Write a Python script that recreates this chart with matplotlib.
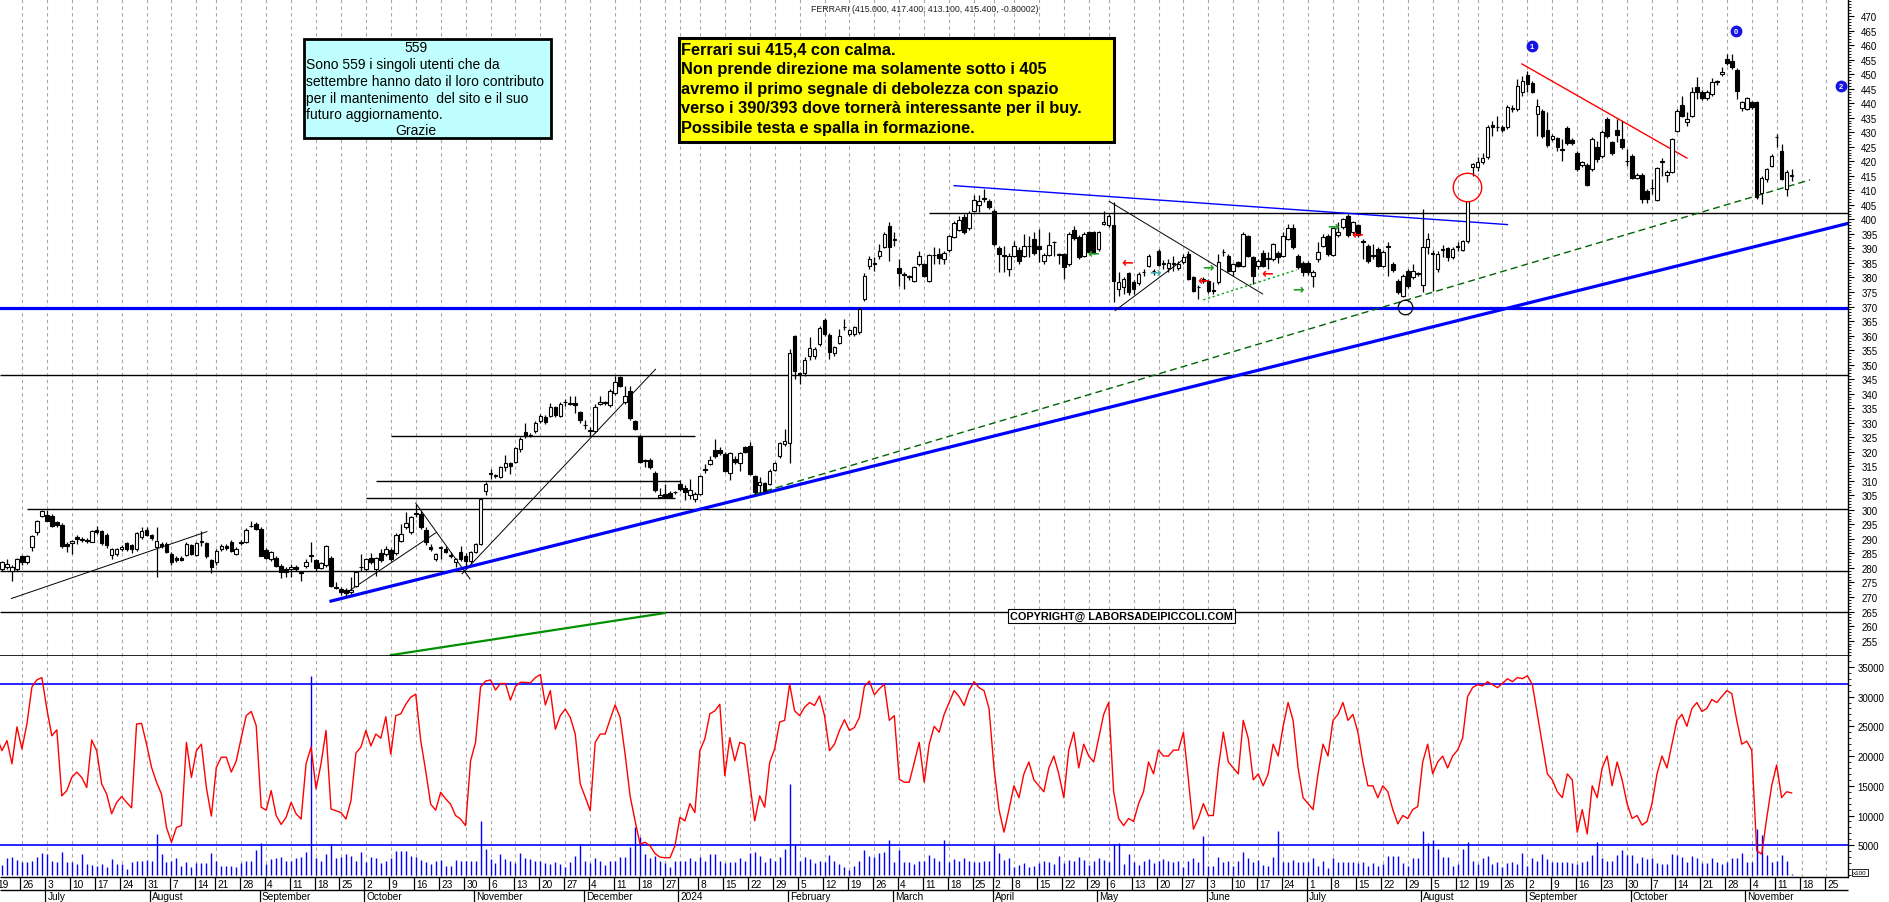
import numpy as np
import pandas as pd
import matplotlib
matplotlib.use('Agg')
import matplotlib.pyplot as plt
from matplotlib.patches import Rectangle
from matplotlib.ticker import MultipleLocator

plt.rcParams['font.family'] = ['Liberation Sans', 'DejaVu Sans']

W, H = 1890, 903

# ---------------- data ----------------
start_date = '2023-06-19'
axis_end_date = '2024-11-29'
holidays = ['2023-08-15', '2023-12-25', '2023-12-26', '2024-01-01',
            '2024-03-29', '2024-04-01', '2024-05-01', '2024-08-15']

opens = [281, 279.6, 280.2, 279, 279.8, 284, 282, 287.1, 292.3, 298,
         298.3, 298, 295.7, 294.8, 288.1, 288.5, 290.8, 289.5, 289.7, 289.1,
         293.1, 292.6, 291.4, 284.6, 284.7, 286.5, 288.5, 287.9, 286.5, 290.5,
         293.1, 291.3, 287.3, 288.1, 288.1, 284.8, 283.6, 283.6, 284.6, 287.9,
         284.6, 289, 288.6, 282.7, 281.9, 286.5, 287.7, 288.8, 284.7, 289.1,
         289, 294.3, 295.1, 293.4, 286.2, 283.1, 283.5, 280.8, 279.6, 279.6,
         280.4, 278.5, 280.6, 284, 282.7, 280, 281, 283.6, 273.5, 272.7,
         272.4, 271.8, 273.9, 280.2, 279.6, 283.4, 279.6, 285.1, 284.8, 286.3,
         285.1, 289.4, 294, 292.3, 298.8, 298.6, 293.1, 287.1, 283.1, 286.9,
         286.7, 284.6, 281.9, 285.6, 284.2, 282.5, 285.4, 288.2, 306.6, 312.5,
         311.8, 311.2, 314.6, 316.1, 316.6, 320.9, 326.7, 325.9, 327.2, 330.7,
         332.1, 332.4, 335.3, 332.4, 337, 336.4, 336.8, 333.6, 329.3, 327.2,
         327.2, 336.4, 336.8, 336.1, 340.1, 345.8, 337.2, 340.8, 330.7, 325.5,
         317.2, 317.3, 312.7, 304.6, 305.4, 305.8, 306, 308.9, 307.7, 305.1,
         303.9, 305.4, 313.9, 315.8, 320.6, 320.6, 319.4, 312.6, 317.5, 316.3,
         321.5, 322.1, 311.5, 308.7, 309.2, 308.9, 313.8, 318.6, 322.6, 322.9,
         359.7, 346.8, 347.1, 352.8, 353, 357.1, 365.3, 360.2, 354, 357.4,
         362.8, 360.5, 360.5, 361.1, 372.6, 384, 384.9, 387.3, 390.4, 397.8,
         393, 383.2, 380.9, 380.3, 378.9, 384.6, 384.6, 378.9, 387.6, 388,
         386.3, 389.6, 393.8, 396.5, 400.7, 396.9, 403, 405.1, 407.1, 406.2,
         403, 390, 387.6, 382.9, 387.5, 389.6, 387.5, 390.7, 393.2, 390.7,
         385.8, 387.9, 392.1, 387.7, 388.1, 384.6, 396.5, 393.8, 387.5, 395.5,
         395.5, 389.8, 398.4, 398.2, 398.1, 376, 376.6, 381.6, 378.6, 378.1,
         381.8, 384.1, 382.1, 389.2, 384.6, 383.1, 384.6, 383.1, 385.2, 388.1,
         380.1, 376.6, 379.5, 378.9, 375.5, 378.3, 388.6, 387.5, 382.3, 385.2,
         384.1, 394.1, 386.9, 384.1, 388.4, 386.3, 386.3, 388.4, 387.5, 393.3,
         396.9, 387.5, 385, 385, 380.6, 386.4, 390.9, 394.4, 387.9, 394.6,
         397.3, 401.3, 395.8, 398, 392.3, 390.9, 387.6, 389.8, 384.1, 390.7,
         384.6, 378.9, 373.7, 382.3, 380, 381.2, 377.4, 390.4, 388.1, 383,
         389.5, 390, 387, 390.5, 389.5, 392.7, 417.9, 417.9, 419.6, 421.3,
         432.5, 431.7, 431.7, 431.7, 438, 438, 444, 449.7, 446.8, 436.3,
         437.4, 430.8, 427.7, 427.9, 424, 431.4, 427.3, 422.8, 418.7, 418.7,
         417.3, 424.8, 421.7, 434.5, 426.5, 430.8, 427.7, 420, 421.9, 414.4,
         415.3, 409.9, 410.7, 406.8, 419.9, 415.3, 416.2, 430.5, 439.4, 433.4,
         435.7, 445.4, 443.9, 441.7, 443.1, 447.4, 450, 455.2, 454.6, 451.5,
         438.3, 438, 440.3, 440.3, 409, 413.9, 418.5, 428.2, 423.6, 410.4,
         415]
highs = [282, 282.5, 283, 281, 283.5, 284.5, 284.3, 291.5, 296.5, 300.1,
         300, 298.5, 296, 295.5, 289, 289.8, 291.5, 290.5, 290.2, 293.2,
         294.5, 293, 292, 287, 287, 287.8, 289, 288.3, 292.5, 294,
         294, 291.8, 294, 289, 289, 285.5, 284, 284, 288.8, 288.3,
         289, 292.6, 289, 283, 286.5, 288.3, 288.3, 289.5, 287.2, 289.5,
         293.6, 296, 295.8, 294, 287, 286, 284, 281.2, 280.5, 281.5,
         281, 279, 283.1, 288.8, 283, 282, 288, 284, 275, 273.5,
         273, 276.8, 279, 284.8, 283.5, 285, 283.8, 286.5, 287.5, 287,
         292, 295.1, 299.2, 298, 302, 299.5, 294, 288.2, 285.3, 287.7,
         287.5, 285.5, 283.5, 287.5, 285, 286, 288.6, 304.2, 309.5, 314,
         312.5, 315, 319, 316.5, 321.6, 325.2, 329.9, 326.5, 330.5, 333,
         332.5, 336.7, 335.8, 337.2, 338.1, 339.3, 339.3, 334, 331, 328.4,
         336.5, 339.3, 337.5, 341.5, 346.2, 346.2, 342.5, 342.7, 331, 325.9,
         317.5, 317.7, 313.5, 307.7, 308.9, 306.5, 306.5, 310.4, 308.5, 310.6,
         306, 312, 315.8, 318.4, 324.4, 321.5, 319.8, 320, 318.6, 320,
         322, 323.2, 312, 311.2, 309.5, 314, 316.6, 323.3, 327.8, 355.4,
         360.2, 347.5, 352.5, 359.4, 356, 363.2, 366, 361, 356.5, 362.2,
         365.7, 362.4, 363.3, 369.8, 381.5, 387.5, 386.9, 391.5, 395.5, 399.2,
         395.5, 386.3, 382, 381, 384, 389.2, 385, 388.2, 390.4, 390,
         389, 394.6, 399.5, 401.3, 401.8, 403, 408.4, 408.4, 410.5, 407,
         403.5, 391, 391, 388.5, 392.6, 390.5, 395, 394.4, 395.5, 396.7,
         388.3, 395.5, 392.6, 388.5, 388.5, 395.5, 397.8, 394.5, 395.5, 396,
         396, 396, 403, 402, 405.9, 381.8, 380, 382, 379.2, 381.8,
         382.9, 388, 383, 389.8, 386, 386.5, 387.5, 385.5, 388, 389,
         380.5, 377.5, 380, 379.5, 378.3, 388.1, 389.8, 388, 385, 385.8,
         395.5, 394.5, 387.5, 386.3, 389.5, 388.6, 392, 389, 395.5, 398.4,
         398.4, 388.1, 385.5, 385.5, 382.5, 392.1, 395, 395, 397.5, 399,
         400.6, 401.8, 399.5, 398.5, 393.2, 391.5, 391.5, 390.4, 389.3, 392.1,
         385.2, 379.5, 381.2, 383, 384.6, 382, 403.6, 395.3, 389.3, 389,
         391.3, 390.5, 390.5, 392.2, 393, 406.4, 419.5, 421.3, 423, 432.4,
         434, 435.7, 432.5, 439.2, 439.2, 448.3, 449.5, 451.2, 447.5, 441.4,
         438, 436.8, 429.4, 428.5, 427.7, 432, 428, 423.4, 420, 419.3,
         428.2, 427.1, 430.8, 435.1, 427.1, 434.5, 434, 424.2, 422.5, 416,
         415.8, 410.5, 413.9, 418, 421, 417, 428, 437.9, 442.6, 436.8,
         445.4, 448.9, 444.5, 444.5, 448.5, 448, 452.3, 456.9, 456.9, 452,
         440.8, 442.2, 440.8, 440.8, 415, 417.8, 422.4, 429.4, 426, 417,
         417.4]
lows = [279, 279, 279.5, 275.6, 279, 281, 281.5, 286, 291.5, 297.5,
        296, 294, 294, 287, 285.4, 284.8, 288.2, 288.8, 288.5, 288.8,
        291.8, 288, 287, 283.1, 284, 286, 286, 285, 286, 290,
        291, 289.8, 276.8, 287, 285, 281, 282, 282.3, 284, 284.3,
        284, 287.6, 283.5, 278.2, 281, 286, 286.3, 285.5, 284.3, 288,
        288.6, 294, 293, 284, 283, 282.5, 280.5, 276.5, 277, 277,
        279, 275.6, 280, 281.9, 279, 279.5, 280.5, 273.5, 272.7, 270.8,
        270.5, 271, 273.5, 279, 279, 281.5, 277.3, 282, 284, 282.5,
        284.5, 289, 293.5, 291.8, 297.5, 293.5, 288, 286, 282.5, 283.1,
        285, 283.5, 280.2, 282.5, 280.5, 281.5, 285, 287.8, 305.1, 310.6,
        311, 311, 313.5, 312.3, 316, 320, 324.8, 325, 326.5, 330,
        329.5, 332, 332, 332, 335.8, 336, 333.5, 330, 327.8, 325.3,
        326.5, 336, 336, 335.5, 339.5, 342.3, 336.5, 331, 327.5, 316,
        314.6, 314, 306, 304.3, 304.3, 304, 305.5, 306.5, 303.5, 303.8,
        302.6, 305, 312.7, 315.3, 318, 319, 313, 310.4, 315.8, 313.5,
        319.5, 312, 305.5, 306, 305.8, 308.5, 313.5, 318, 322, 316.3,
        345, 343.3, 346, 351.7, 352, 356.5, 360, 352, 352.8, 357,
        362, 360, 360, 360.5, 372, 382.9, 382.3, 386.5, 390, 385.8,
        391, 377.2, 376, 379, 378.5, 384, 380, 378.5, 384.6, 384.6,
        384.6, 388.6, 393.5, 396, 395, 396.5, 402.5, 402.4, 405.9, 403.5,
        391, 381.8, 381.8, 380.6, 387, 384.5, 387, 386.9, 387.8, 385.2,
        384.5, 387.5, 387.5, 384.6, 379.5, 384, 393, 386.3, 387, 388,
        388, 389, 398, 397.5, 371.5, 373.7, 374.3, 374, 374.3, 377.5,
        380.6, 383.5, 381, 384, 383, 382, 382.3, 382.5, 384.5, 379,
        375, 372.6, 378, 374.5, 374.3, 377.8, 387.5, 381.8, 380.6, 383.5,
        383.5, 387, 377.8, 382.9, 383.5, 382.9, 385.8, 385, 387, 392.8,
        389.8, 382.9, 380.6, 381, 376.6, 385.2, 390.5, 387.5, 387.5, 394,
        396.8, 394, 395, 394, 386.4, 385, 386.4, 383.5, 383.5, 380.6,
        382, 374.3, 373.2, 376.5, 379.5, 380.6, 374.9, 388, 375.5, 382,
        387, 385.5, 386.5, 389, 389, 391.8, 415, 416.8, 419, 420.8,
        428.8, 430.5, 430, 431, 437, 437.4, 442.6, 443.7, 443.5, 428.8,
        428, 424.8, 427.1, 423.7, 420.2, 425.7, 425.5, 416.7, 418, 411.5,
        416.7, 419.6, 421, 428, 422.3, 426.5, 424.2, 418.5, 414, 413.8,
        405.8, 405.6, 408.7, 406.3, 415, 412.7, 415.8, 430, 435.2, 432.2,
        435.2, 441.4, 441, 441, 442.6, 446.2, 449.5, 453.3, 451.8, 441.4,
        437.4, 437.5, 438, 407, 405.3, 413, 418, 424.8, 413.5, 408.1,
        413.1]
closes = [280, 281.9, 281.3, 280.2, 283.1, 282, 284, 291.1, 296, 299.5,
          296.3, 294.5, 294.8, 287.7, 287.6, 289.4, 290, 290, 289.2, 292.8,
          292.3, 288.5, 287.9, 286.5, 286.7, 287.3, 286.5, 286.5, 292, 292.6,
          291.4, 290.2, 289.2, 287.7, 285.4, 281.9, 282.8, 282.8, 288.4, 284.8,
          288.5, 289.3, 284, 280.2, 286, 287.7, 286.9, 286, 286.7, 288.6,
          293.2, 294.6, 293.4, 284.2, 283.5, 285.4, 280.8, 278.5, 278.7, 280.4,
          279.6, 278.3, 281.9, 284.3, 280, 281.6, 287.4, 273.9, 273.2, 271.6,
          271.3, 272.5, 278.5, 280.5, 283.1, 281.9, 283.3, 282.8, 286.5, 283.1,
          291.4, 291.7, 295.5, 297.4, 298.6, 294, 288.8, 286.5, 284.8, 287,
          285.4, 284, 283.1, 283.1, 282.5, 285.6, 288.2, 303.7, 308.9, 312.7,
          311.6, 314.6, 316.3, 315, 321.2, 324.4, 325.3, 325.5, 329.9, 332.2,
          330.3, 335.3, 332.6, 336.4, 337.1, 336.6, 336.1, 331, 329.1, 327.3,
          335.5, 337.2, 336.9, 340.8, 343.9, 342.7, 339.1, 331.5, 327.8, 316.6,
          316.9, 314.6, 306.9, 305.2, 304.6, 304.6, 306.1, 307.2, 306, 306.9,
          305.4, 311.5, 313.8, 317.1, 318.4, 319.5, 313.5, 319.6, 316.6, 319.6,
          319.8, 312.3, 306, 309.5, 306.6, 313.5, 316.1, 322.9, 323.8, 353.9,
          347.9, 346.7, 351.7, 355.7, 355.4, 362.6, 360.5, 354.4, 355.9, 359.7,
          362.9, 361.9, 362.8, 369.1, 380.6, 386.3, 384.8, 389.2, 395, 390.4,
          393.1, 381.4, 380.8, 380.2, 383.5, 387.5, 380.6, 387.7, 387.8, 386.6,
          388.4, 394.1, 398.7, 399.8, 395.5, 402.1, 406.8, 406.2, 407, 404.1,
          391.5, 388.1, 387.5, 387.5, 390.9, 385.8, 391, 390.8, 388.4, 389.8,
          387.7, 391.2, 392.2, 387.8, 383.5, 395, 393.5, 386.9, 395, 388.6,
          388.4, 395.5, 399.2, 401.3, 378.9, 378.6, 379.3, 374.9, 376, 381.2,
          381.8, 387.5, 382.2, 384.3, 384.7, 385, 384.7, 384.6, 387, 379.5,
          375.5, 376.6, 378.9, 375.5, 375.4, 385.2, 388.7, 382.3, 384.6, 384.1,
          395, 387.5, 380.6, 385.8, 384.1, 386.4, 391.5, 386.9, 394.4, 396.9,
          390.4, 383.5, 381.8, 381.8, 382, 388.9, 393.8, 388.1, 396.9, 395.5,
          400.1, 394.6, 399, 394.6, 392.2, 385.8, 387.5, 384.1, 388.7, 390.6,
          382.7, 374.9, 380.6, 377.2, 382.3, 381.3, 390.4, 393.2, 388.1, 388.1,
          389.6, 387, 389.8, 390.8, 392.5, 406.4, 419, 419.6, 421, 431.9,
          431.7, 431.8, 430.9, 438.6, 438.1, 445.8, 447.7, 446.6, 444, 438.9,
          428.6, 425.7, 428.8, 424.8, 424, 426.3, 426.2, 417.3, 419.6, 411.9,
          427.6, 420.8, 430.2, 428.8, 422.8, 429, 424.8, 420, 414.4, 415.3,
          407, 407, 410.8, 417.6, 420, 416.4, 427.6, 437.4, 435.7, 434.5,
          443.7, 443.7, 441.7, 443.9, 447.2, 447.5, 450.8, 453.8, 452.3, 444.3,
          440.3, 441.7, 438.6, 407.6, 414.4, 417.3, 421.9, 428.3, 413.9, 416.4,
          415.4]

volume = [2500, 1680, 2860, 2970, 2520, 2240, 2130, 2410, 3080, 3700,
          3530, 2300, 2130, 3810, 2130, 2130, 1850, 3530, 1850, 1740,
          1570, 1850, 1290, 2690, 1850, 1850, 1010, 2130, 2410, 2410,
          2520, 2410, 6890, 3530, 2130, 2410, 2860, 1570, 2130, 1290,
          1960, 1960, 2020, 3640, 2300, 1570, 1570, 1570, 1290, 1960,
          2300, 2300, 4200, 5320, 1850, 2750, 2860, 2970, 2410, 2410,
          2860, 3080, 3810, 33460, 2860, 2300, 3530, 5210, 2860, 3080,
          3530, 3250, 2300, 3810, 2130, 2970, 2860, 1960, 2410, 2860,
          4090, 3980, 3980, 3250, 2970, 2520, 2130, 1850, 2300, 2520,
          1570, 1510, 2520, 2300, 2300, 2300, 2300, 9140, 4370, 2690,
          1960, 3530, 2640, 2300, 1960, 3640, 2860, 2690, 2300, 2410,
          1960, 1850, 2130, 1850, 1290, 2130, 3250, 5210, 2410, 1960,
          2860, 2300, 1740, 2410, 2300, 2970, 3080, 4760, 8010, 6450,
          3530, 2860, 3250, 2300, 1960, 1290, 2300, 2300, 2300, 2860,
          2300, 2970, 2410, 3530, 3530, 2300, 1960, 2130, 2130, 2860,
          2300, 3640, 3810, 3250, 2130, 2860, 2300, 2970, 4370, 15300,
          5210, 2300, 2970, 2690, 1960, 2300, 2130, 3420, 2300, 1850,
          1290, 840, 1570, 2300, 4200, 3250, 2970, 3640, 3810, 5890,
          2130, 4200, 2130, 2130, 1850, 2300, 2300, 3360, 2860, 2410,
          5890, 2130, 2690, 2410, 2800, 2300, 2240, 2240, 2410, 2300,
          5040, 3700, 2580, 2800, 1400, 1680, 1960, 1400, 1570, 1960,
          2350, 2240, 1850, 3140, 1960, 2580, 2410, 2970, 2580, 1680,
          2300, 2800, 2580, 2240, 5210, 5320, 1850, 3530, 2240, 1740,
          2410, 2690, 2020, 2410, 2690, 2410, 2130, 2410, 1290, 2410,
          2800, 2130, 6500, 1570, 1570, 2970, 2240, 2410, 1570, 2300,
          3810, 2800, 2240, 2580, 1680, 1570, 3080, 7450, 2130, 2130,
          2580, 2130, 2130, 2130, 2800, 1570, 2410, 1120, 2800, 2130,
          2130, 2130, 2240, 1960, 2240, 1570, 2020, 1570, 1850, 3140,
          3250, 3140, 2020, 1570, 2800, 2800, 7450, 5380, 5880, 4370,
          2970, 2970, 1570, 1850, 4370, 5600, 2410, 1850, 2860, 3140,
          1850, 2130, 1290, 2020, 2130, 1850, 3700, 1570, 2800, 2410,
          3530, 2690, 2130, 2240, 2130, 2130, 1960, 1850, 2240, 2410,
          3360, 5600, 2860, 2410, 2300, 3360, 4200, 3360, 3360, 1960,
          3080, 2690, 2860, 1960, 1850, 1850, 3530, 3360, 2970, 2240,
          3140, 2800, 2020, 2020, 2800, 2240, 1850, 2130, 2800, 2800,
          3640, 2240, 2240, 7730, 6780, 3360, 2130, 2410, 3360, 2410,
          170]

oscillator = [23100, 20900, 22600, 18700, 24900, 21200, 25400, 31600, 32800, 33200,
              27900, 23400, 24400, 13300, 14200, 16400, 17300, 16400, 14700, 22700,
              20900, 15300, 13600, 10300, 12200, 13200, 12200, 11300, 25400, 25500,
              22000, 18100, 15600, 13600, 8000, 5500, 8000, 8300, 22300, 16400,
              20900, 22000, 14700, 9900, 18100, 19800, 19800, 17300, 19200, 23100,
              26800, 27500, 25100, 11400, 10900, 14200, 10000, 8500, 9700, 12200,
              10300, 9400, 18700, 21500, 14500, 18700, 24300, 11100, 10800, 10500,
              9400, 12500, 20500, 21500, 24300, 21700, 23700, 23000, 26600, 20300,
              26800, 27100, 28700, 29900, 30400, 22600, 17500, 11900, 10900, 13900,
              12800, 11900, 10000, 9400, 8300, 19200, 22300, 31600, 32600, 32800,
              31100, 32200, 32200, 29400, 31700, 32400, 32400, 32300, 33200, 33700,
              28600, 31000, 24500, 26800, 27900, 26500, 23700, 15300, 13100, 10800,
              22300, 23700, 23700, 26200, 28600, 26500, 20300, 13300, 9100, 5200,
              5500, 4900, 3600, 3000, 2900, 2900, 4900, 9700, 9100, 12000,
              10500, 20900, 22900, 27100, 27600, 28700, 16700, 23100, 19200, 22300,
              22000, 15600, 9100, 13300, 11400, 18900, 21200, 25700, 26000, 32100,
              27600, 26800, 28200, 29000, 28500, 30100, 26800, 20900, 22000, 24300,
              26100, 24300, 24800, 26500, 31700, 32600, 30300, 31300, 32100, 26000,
              26800, 16100, 15600, 15600, 18900, 22300, 15600, 22000, 25000, 24000,
              27000, 29000, 31000, 30000, 28500, 31000, 32500, 31500, 31000, 28000,
              18000, 11000, 7200, 11000, 15000, 13000, 17000, 19000, 16000, 15000,
              14000, 18000, 20000, 17000, 13000, 21000, 24000, 18000, 22000, 20000,
              19000, 23000, 27000, 29000, 14000, 9500, 8300, 9500, 9000, 12000,
              14000, 19000, 17000, 21000, 20000, 20000, 21000, 21000, 24000, 16000,
              7700, 9500, 12000, 10000, 10000, 18000, 24000, 19000, 18000, 17000,
              26000, 23000, 16000, 17000, 15000, 17000, 22000, 20000, 25000, 29000,
              26000, 18000, 13000, 12000, 11000, 17000, 22000, 20000, 26000, 27000,
              29000, 26000, 27000, 24000, 19000, 15000, 15000, 13000, 15000, 14000,
              11000, 8600, 10000, 9500, 11000, 11500, 19000, 22000, 17000, 19000,
              20000, 18000, 20000, 21000, 23000, 30000, 31500, 32000, 31800, 32500,
              32000, 31500, 32200, 33000, 32500, 33200, 33000, 33500, 32000, 27000,
              22000, 17000, 16000, 14000, 13000, 17000, 16000, 7200, 11000, 6900,
              15000, 13000, 18000, 20000, 15000, 19000, 16000, 12000, 9500, 10000,
              8400, 9000, 12000, 17000, 20000, 18000, 22000, 26000, 27000, 25000,
              28000, 29000, 27500, 28000, 29500, 29000, 30000, 31000, 30500, 26000,
              22000, 22500, 21000, 4100, 3500, 9500, 15000, 18500, 13000, 14000,
              13800]

osc_levels = [32100, 5000]
price_ticks = list(range(255, 471, 5))
vol_ticks = list(range(5000, 35001, 5000))
month_names = {1: '2024', 2: 'February', 3: 'March', 4: 'April', 5: 'May', 6: 'June',
               7: 'July', 8: 'August', 9: 'September', 10: 'October',
               11: 'November', 12: 'December'}

# drawn studies: (price, from bar, to bar); None = chart edge
black_levels = [(346.4, None, None), (300.3, 6, None), (278.8, None, None),
                (264.9, None, None), (402.1, 187, None), (325.3, 79, 140),
                (310.1, 76, 137), (304.0, 74, 136)]
thin_trends = [((2.9, 269.5), (42.1, 292.5)), ((70.2, 271.6), (88.2, 292.3)),
               ((84, 302.3), (94.9, 276.2)), ((93.3, 278.0), (132.1, 348.4)),
               ((223.1, 406.2), (253.9, 374.3)), ((224.3, 368.6), (239, 387.5))]
blue_support = ((67, 268.6), (371.3, 398.6))
blue_resist = ((192, 411.6), (303, 398.2))
red_resist = ((305.9, 453.5), (339, 421.1))
green_dashed = ((152, 305.4), (363.7, 413.6))
green_dotted = ((242, 372.3), (260.7, 382.6))
green_solid = ((79, 250.0), (134, 264.5))
arrows = [(219.8, 388.3, '←', '#22A022'), (226.6, 385.2, '←', '#FF0000'),
          (232.3, 382.0, '→', '#40B0B0'), (242.0, 379.2, '←', '#FF0000'),
          (243.0, 383.5, '→', '#22A022'), (254.7, 381.7, '←', '#FF0000'),
          (261.0, 376.0, '→', '#22A022'), (268.0, 397.8, '→', '#22A022'),
          (272.8, 395.0, '←', '#FF0000')]
count_marks = [(307.9, 459.8, '1'), (348.8, 464.7, '0'), (369.9, 446.0, '2')]

# ---------------- layout ----------------
BAR_PX, BAR0_PX = 4.985, -3.0
XMIN = (0 - BAR0_PX) / BAR_PX
XMAX = (1848 - BAR0_PX) / BAR_PX

def box(x0, y0, x1, y1):
    return [x0 / W, 1 - y1 / H, (x1 - x0) / W, (y1 - y0) / H]

fig = plt.figure(figsize=(W / 100, H / 100), dpi=100, facecolor='white')
ax_p = fig.add_axes(box(0, 0, 1848, 657))
ax_v = fig.add_axes(box(0, 657, 1848, 878))
ax_d = fig.add_axes(box(0, 878, 1848, 903))

n = min(len(opens), len(highs), len(lows), len(closes), len(volume), len(oscillator))
idx = np.arange(n)
o = np.array(opens[:n]); h = np.array(highs[:n]); l = np.array(lows[:n]); c = np.array(closes[:n])

dates = pd.bdate_range(start_date, axis_end_date, freq='C', holidays=holidays)
week_start = [i for i in range(len(dates))
              if i == 0 or dates[i].isocalendar()[1] != dates[i - 1].isocalendar()[1]]
month_start = [i for i in range(1, len(dates)) if dates[i].month != dates[i - 1].month]

for ax in (ax_p, ax_v):
    ax.set_xlim(XMIN, XMAX)
    for i in week_start:
        ax.axvline(i, color='#A8A8A8', lw=0.8, dashes=(3, 3), zorder=0)
    ax.set_xticks([])
    for s in ('left', 'top'):
        ax.spines[s].set_visible(False)
    ax.spines['right'].set_linewidth(1.0)
    ax.yaxis.tick_right()
    ax.tick_params(axis='y', which='major', direction='out', length=4.5, width=0.8,
                   labelsize=7, pad=5)
    ax.tick_params(axis='y', which='minor', direction='out', length=2.2, width=0.6)

# ---------------- price panel ----------------
ax_p.set_ylim(249.7, 475.85)
ax_p.set_yticks(price_ticks)
ax_p.yaxis.set_minor_locator(MultipleLocator(1))
ax_p.spines['bottom'].set_linewidth(1.2)

for p, a, b in black_levels:
    ax_p.hlines(p, XMIN if a is None else a, XMAX if b is None else b,
                color='black', lw=1.0, zorder=2)
ax_p.axhline(369.5, color='#0000FF', lw=2.3, zorder=2)
for (x0, y0), (x1, y1) in thin_trends:
    ax_p.plot([x0, x1], [y0, y1], color='black', lw=0.7, zorder=2)
ax_p.plot(*zip(*blue_support), color='#0000FF', lw=2.3, zorder=2)
ax_p.plot(*zip(*blue_resist), color='#0000FF', lw=1.0, zorder=2)
ax_p.plot(*zip(*red_resist), color='#FF0000', lw=1.0, zorder=2)
ax_p.plot(*zip(*green_dashed), color='#006400', lw=1.0, dashes=(5, 3), zorder=2)
ax_p.plot(*zip(*green_dotted), color='#00A000', lw=1.0, dashes=(1.5, 2), zorder=2)
ax_p.plot(*zip(*green_solid), color='#009000', lw=1.6, zorder=2)

up = c >= o
body_lo = np.minimum(o, c)
body_h = np.maximum(np.abs(c - o), 0.25)
ax_p.vlines(idx, l, h, color='black', lw=0.9, zorder=3)
ax_p.bar(idx[up], body_h[up], bottom=body_lo[up], width=0.72, color='white',
         edgecolor='black', linewidth=0.8, zorder=4)
ax_p.bar(idx[~up], body_h[~up], bottom=body_lo[~up], width=0.72, color='black',
         edgecolor='black', linewidth=0.8, zorder=4)

ax_p.plot(294.9, 411.2, 'o', ms=20.5, mfc='none', mec='#FF0000', mew=1.0, zorder=5)
ax_p.plot(282.4, 369.7, 'o', ms=10.5, mfc='none', mec='black', mew=0.9, zorder=5)
for x, y, s, col in arrows:
    ax_p.text(x, y, s, color=col, fontsize=10, fontweight='bold', ha='center',
              va='center', family=['DejaVu Sans'], zorder=6)
for x, y, s in count_marks:
    ax_p.plot(x, y, 'o', ms=7.5, color='#1414E6', zorder=6)
    ax_p.text(x, y - 0.2, s, color='white', fontsize=5.5, fontweight='bold',
              ha='center', va='center', zorder=7)

# ---------------- volume / oscillator panel ----------------
ax_v.set_ylim(-336, 36820)
ax_v.set_yticks(vol_ticks)
ax_v.set_yticklabels([str(v) for v in vol_ticks])
ax_v.yaxis.set_minor_locator(MultipleLocator(1000))
ax_v.tick_params(axis='y', which='major', pad=2.5)
ax_v.spines['bottom'].set_visible(False)
ax_v.vlines(idx, 0, volume[:n], color='#0000FF', lw=1.0, zorder=2)
for lv in osc_levels:
    ax_v.axhline(lv, color='#0000FF', lw=1.2, zorder=3)
ax_v.plot(idx, oscillator[:n], color='#FF0000', lw=1.0, zorder=4)

# ---------------- date strip ----------------
ax_d.set_xlim(XMIN, XMAX)
ax_d.set_ylim(0, 25)
ax_d.axis('off')
ax_d.hlines([24.6, 12.3], XMIN, XMAX, color='black', lw=1.0, clip_on=False)
for i in week_start:
    d = dates[i]
    ax_d.vlines(i - 0.3, 12.3, 24.6, color='black', lw=0.9)
    if not (d.month == 1 and d.day <= 3):
        ax_d.text(i + 0.15, 18.3, str(d.day), fontsize=7.3, ha='left', va='center')
for i in month_start:
    d = dates[i]
    ax_d.vlines(i - 0.3, 0, 12.3, color='black', lw=0.9)
    ax_d.text(i + 0.15, 5.6, month_names[d.month], fontsize=7.3, ha='left', va='center')

# ---------------- text boxes ----------------
def fx(x):
    return x / W

def fy(y):
    return 1 - y / H

fig.text(fx(925), fy(9), 'FERRARI (415.000, 417.400, 413.100, 415.400, -0.80002)',
         fontsize=6.3, ha='center', va='center', color='#202020')

fig.add_artist(Rectangle((fx(303.6), fy(139.3)), (551.3 - 303.6) / W, (139.3 - 40) / H,
                         transform=fig.transFigure, facecolor='#C0FFFF',
                         edgecolor='black', lw=2.0, zorder=10))
fig.text(fx(416), fy(48.5), '559', fontsize=10, ha='center', va='center', zorder=11)
cyan_lines = ['Sono 559 i singoli utenti che da',
              'settembre hanno dato il loro contributo',
              'per il mantenimento  del sito e il suo',
              'futuro aggiornamento.']
for k, t in enumerate(cyan_lines):
    fig.text(fx(306.5), fy(65.5 + 16.5 * k), t, fontsize=10, ha='left', va='center',
             zorder=11)
fig.text(fx(416), fy(130.7), 'Grazie', fontsize=10, ha='center', va='center', zorder=11)

fig.add_artist(Rectangle((fx(678.7), fy(142.7)), (1114.2 - 678.7) / W, (142.7 - 39.3) / H,
                         transform=fig.transFigure, facecolor='#FFFF00',
                         edgecolor='black', lw=2.2, zorder=10))
yellow_lines = ['Ferrari sui 415,4 con calma.',
                'Non prende direzione ma solamente sotto i 405',
                'avremo il primo segnale di debolezza con spazio',
                'verso i 390/393 dove tornerà interessante per il buy.',
                'Possibile testa e spalla in formazione.']
for k, t in enumerate(yellow_lines):
    fig.text(fx(681.5), fy(50 + 19.6 * k), t, fontsize=11.8, fontweight='bold',
             ha='left', va='center', zorder=11)

fig.text(fx(1010), fy(617), 'COPYRIGHT@ LABORSADEIPICCOLI.COM', fontsize=7.8,
         fontweight='bold', ha='left', va='center', zorder=11,
         bbox=dict(boxstyle='square,pad=0.15', facecolor='white', edgecolor='black', lw=0.8))

fig.text(fx(1853), fy(873.5), 'x100', fontsize=4.5, ha='left', va='center', zorder=11,
         bbox=dict(boxstyle='square,pad=0.15', facecolor='white', edgecolor='black', lw=0.6))

fig.savefig('out.png', dpi=100, facecolor='white')
